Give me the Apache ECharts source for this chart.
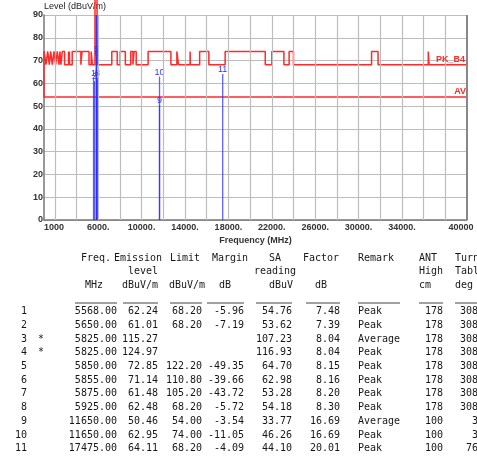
<!DOCTYPE html>
<html><head><meta charset="utf-8">
<script src="https://cdn.jsdelivr.net/npm/echarts@6/dist/echarts.min.js"></script>
<style>html,body{margin:0;padding:0;background:#fff}#c{width:477px;height:456px}</style>
</head><body><div id="c"></div>
<script>
// ---------- data ----------
const xTickValues = [1000, 6000, 10000, 14000, 18000, 22000, 26000, 30000, 34000, 40000];
const xTickLabels = ['1000', '6000.', '10000.', '14000.', '18000.', '22000.', '26000.', '30000.', '34000.', '40000'];
const xGridValues = [2000,4000,6000,8000,10000,12000,14000,16000,18000,20000,22000,24000,26000,28000,30000,32000,34000,36000,38000];

// PK_B4 limit line (step, level holds from each frequency onward)
const pkFreq  = [1000, 1184, 1340, 1487, 1616, 1763, 1920, 2076, 2223, 2380, 2471, 2560, 2690, 2900, 3260, 3267, 3332, 3339, 3346, 3358, 3600, 4400, 4500, 5150, 5350, 5460, 5700, 5720, 5725, 5850, 5855, 5875, 5925, 7250, 7750, 8025, 8500, 9000, 9200, 9300, 9500, 10600, 12700, 13250, 13400, 14470, 14500, 15350, 16200, 17700, 21400, 22010, 23120, 23600, 24000, 31200, 31800, 36430, 36500, 40000];
const pkLevel = [74,   68.2, 74,   68.2, 74,   68.2, 74,   68.2, 74,   68.2, 74,   68.2, 74,   68.2, 74,   68.2, 74,   68.2, 74,   68.2, 74,   68.2, 74,   68.2, 74,   68.2, 105.2, 110.8, 122.2, 122.2, 110.8, 105.2, 68.2, 74,  68.2, 74,   68.2, 74,   68.2, 74,   68.2, 74,    68.2,  74,    68.2,  74,    68.2,  74,    68.2,  74,    68.2,  74,    68.2,  74,    68.2,  74,    68.2,  74,    68.2,  68.2];
// AV limit line
const avFreq  = [1000, 1000, 40000];
const avLevel = [74, 54, 54];

// markers / table
const markerNo     = ['1','2','3','4','5','6','7','8','9','10','11'];
const markerStar   = ['', '', '*', '*', '', '', '', '', '', '', ''];
const markerFreq   = [5568.00, 5650.00, 5825.00, 5825.00, 5850.00, 5855.00, 5875.00, 5925.00, 11650.00, 11650.00, 17475.00];
const markerLevel  = [62.24, 61.01, 115.27, 124.97, 72.85, 71.14, 61.48, 62.48, 50.46, 62.95, 64.11];
const markerLimit  = [68.20, 68.20, null, null, 122.20, 110.80, 105.20, 68.20, 54.00, 74.00, 68.20];
const markerMargin = [-5.96, -7.19, null, null, -49.35, -39.66, -43.72, -5.72, -3.54, -11.05, -4.09];
const saReading    = [54.76, 53.62, 107.23, 116.93, 64.70, 62.98, 53.28, 54.18, 33.77, 46.26, 44.10];
const factorDb     = [7.48, 7.39, 8.04, 8.04, 8.15, 8.16, 8.20, 8.30, 16.69, 16.69, 20.01];
const remarkText   = ['Peak','Peak','Average','Peak','Peak','Peak','Peak','Peak','Average','Peak','Peak'];
const antHigh      = ['178','178','178','178','178','178','178','178','100','100','100'];
const turnTable    = ['308','308','308','308','308','308','308','308','3','3','76'];

// ---------- chart ----------
const chart = echarts.init(document.getElementById('c'));
const AX = 'Liberation Sans';
const MONO = 'DejaVu Sans Mono';
const yMax = 90;
const red = '#ff2a2a';

const pkData = pkFreq.map((f, i) => [f, pkLevel[i]]);
const avData = avFreq.map((f, i) => [f, avLevel[i]]);
const markerData = markerFreq.map((f, i) => ({
  value: [f, markerLevel[i]], name: markerNo[i],
  label: { show: markerLevel[i] <= yMax }
}));

// table graphics
const graphics = [];
const txtColor = '#161616';
function addText(text, x, y, align) {
  graphics.push({ type: 'text', silent: true, style: {
    text: text, x: x, y: y, align: align, verticalAlign: 'middle',
    fontFamily: MONO, fontSize: 10, fill: txtColor } });
}
const headers = [
  ['Freq.', 96, 258, 'center'], ['Emission', 138, 258, 'center'], ['Limit', 185, 258, 'center'],
  ['Margin', 230, 258, 'center'], ['SA', 275, 258, 'center'], ['Factor', 321, 258, 'center'],
  ['Remark', 358, 258, 'left'], ['ANT', 419, 258, 'left'], ['Turn', 455, 258, 'left'],
  ['level', 143, 271.5, 'center'], ['reading', 275, 271.5, 'center'], ['High', 419, 271.5, 'left'], ['Table', 455, 271.5, 'left'],
  ['MHz', 94, 285, 'center'], ['dBuV/m', 140, 285, 'center'], ['dBuV/m', 187, 285, 'center'], ['dB', 225, 285, 'center'],
  ['dBuV', 281, 285, 'center'], ['dB', 321, 285, 'center'], ['cm', 419, 285, 'left'], ['deg', 455, 285, 'left']
];
headers.forEach(h => addText(h[0], h[1], h[2], h[3]));
const underlines = [[75,117],[123,158],[170,202],[207,244],[256,292],[306,340],[358,400],[419,443],[455,477]];
underlines.forEach(u => graphics.push({ type: 'line', silent: true,
  shape: { x1: u[0], y1: 303, x2: u[1], y2: 303 }, style: { stroke: '#444', lineWidth: 1 } }));
const f2 = v => v == null ? '' : v.toFixed(2);
const cols = [
  [27, 'right', i => markerNo[i]],
  [41, 'center', i => markerStar[i]],
  [117, 'right', i => f2(markerFreq[i])],
  [158, 'right', i => f2(markerLevel[i])],
  [202, 'right', i => f2(markerLimit[i])],
  [244, 'right', i => f2(markerMargin[i])],
  [292, 'right', i => f2(saReading[i])],
  [340, 'right', i => f2(factorDb[i])],
  [358, 'left', i => remarkText[i]],
  [443, 'right', i => antHigh[i]],
  [478, 'right', i => turnTable[i]]
];
markerNo.forEach((_, i) => {
  const y = 311.7 + i * 13.7;
  cols.forEach(c => addText(c[2](i), c[0], y, c[1]));
});

const option = {
  animation: false,
  backgroundColor: '#fff',
  grid: { left: 44, top: 15, width: 423, height: 205 },
  xAxis: {
    type: 'value', min: 1000, max: 40000, interval: 1000,
    name: 'Frequency (MHz)', nameLocation: 'middle', nameGap: 16,
    nameTextStyle: { fontFamily: AX, fontSize: 9, fontWeight: 'bold', color: '#333' },
    axisLine: { show: true, onZero: false, lineStyle: { color: '#777', width: 1.5 } },
    axisTick: { show: false },
    splitLine: { show: false },
    axisLabel: {
      margin: 3, fontFamily: AX, fontSize: 9, fontWeight: 'bold', color: '#333',
      showMinLabel: true, showMaxLabel: true, alignMinLabel: 'left',
      formatter: v => {
        const k = xTickValues.indexOf(v);
        if (k < 0) return '';
        if (v === 40000) return '{m|' + xTickLabels[k] + '}';
        return xTickLabels[k];
      },
      rich: { m: { fontFamily: AX, fontSize: 9, fontWeight: 'bold', color: '#333', padding: [0, 12, 0, 0] } }
    }
  },
  yAxis: {
    type: 'value', min: 0, max: yMax, interval: 10,
    name: 'Level (dBuV/m)', nameLocation: 'end', nameGap: 2,
    nameTextStyle: { fontFamily: AX, fontSize: 9, color: '#222', align: 'left', verticalAlign: 'bottom' },
    axisLine: { show: true, lineStyle: { color: '#777', width: 1.5 } },
    axisTick: { show: false },
    axisLabel: { margin: 1, fontFamily: AX, fontSize: 9, fontWeight: 'bold', color: '#333' },
    splitLine: { show: true, lineStyle: { color: '#bdbdbd', width: 1.2 } }
  },
  series: [
    {
      name: 'grid', type: 'line', data: [], z: 1, silent: true,
      markLine: {
        silent: true, symbol: ['none', 'none'], label: { show: false },
        lineStyle: { color: '#bdbdbd', width: 1.2, type: 'solid' },
        data: xGridValues.map(v => ({ xAxis: v })).concat([{ xAxis: 40000, lineStyle: { color: '#888', width: 2, type: 'solid' } }])
      }
    },
    {
      name: 'AV', type: 'line', data: avData, showSymbol: false, z: 3,
      lineStyle: { color: red, width: 1.5 },
      markPoint: {
        symbol: 'circle', symbolSize: 0, silent: true,
        label: { show: true, position: 'left', distance: 1, offset: [0, -5], formatter: '{b}',
          fontFamily: AX, fontSize: 9, fontWeight: 'bold', color: red },
        data: [{ coord: [40000, 54], name: 'AV' }]
      }
    },
    {
      name: 'PK_B4', type: 'line', data: pkData, step: 'end', showSymbol: false, z: 3, clip: false,
      lineStyle: { color: red, width: 1.5 },
      markPoint: {
        symbol: 'circle', symbolSize: 0, silent: true,
        label: { show: true, position: 'left', distance: 2, offset: [0, -5], formatter: '{b}',
          fontFamily: AX, fontSize: 9, fontWeight: 'bold', color: red },
        data: [{ coord: [40000, 68.2], name: 'PK_B4' }]
      }
    },
    {
      name: 'markers', type: 'bar', data: markerData, barWidth: 1.3, z: 4,
      itemStyle: { color: 'rgba(45,45,255,0.75)' },
      labelLayout: { hideOverlap: false },
      label: { position: 'top', distance: 0, formatter: '{b}', fontFamily: AX, fontSize: 9, color: '#3333ff' }
    }
  ],
  graphic: graphics
};
chart.setOption(option);
</script>
</body></html>
